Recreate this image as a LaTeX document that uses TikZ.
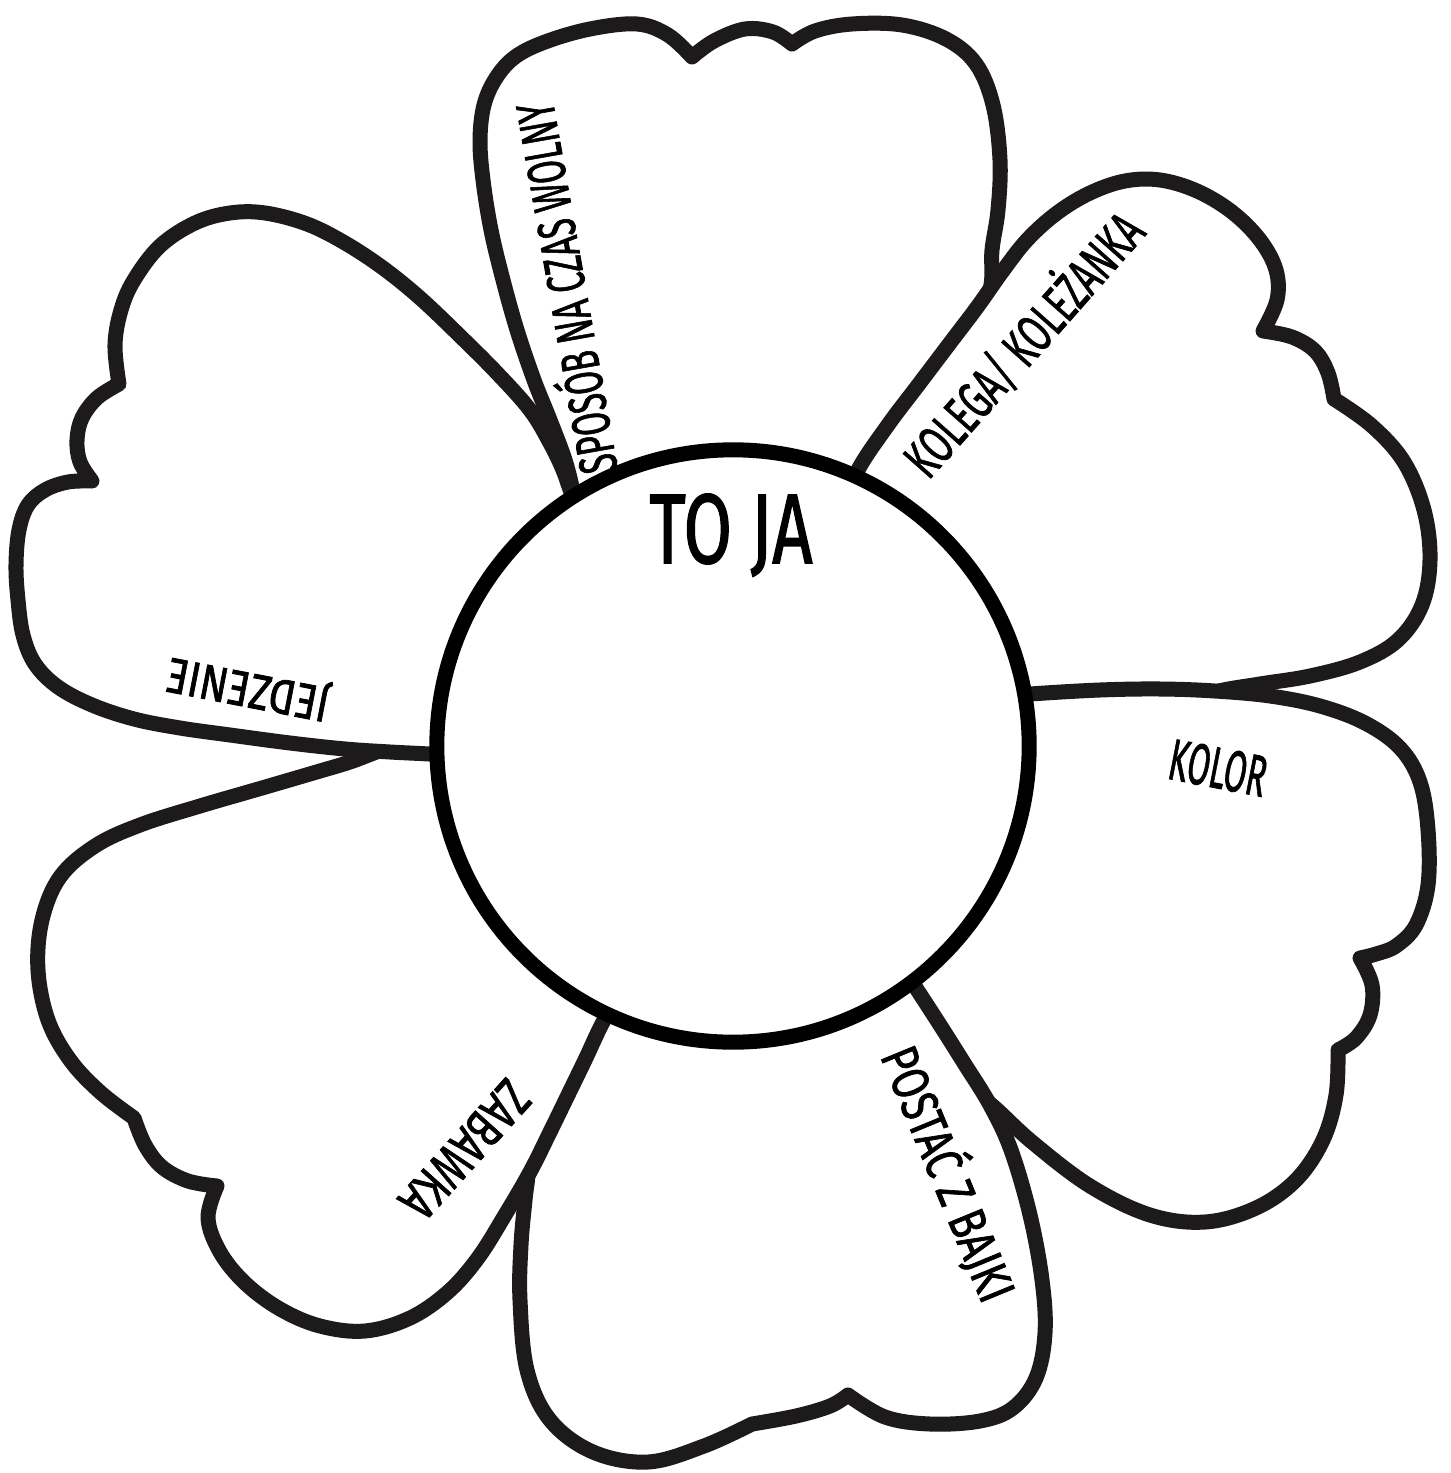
\documentclass[tikz,border=0pt]{standalone}
\usepackage{fontspec}
\usepackage{graphicx}
\newfontfamily\hand[FakeBold=1.6]{Fira Sans}
\newcommand\lbl[3]{\resizebox{#1}{#2}{\hand\vphantom{E}\smash{#3}}}
\definecolor{ink}{RGB}{28,26,27}
\begin{document}
\begin{tikzpicture}[x=0.01cm,y=-0.01cm,
  petal/.style={fill=white,draw=ink,line width=0.15cm,line join=round},
  lab/.style={inner sep=0pt,outer sep=0pt,text=black}]
\useasboundingbox[fill=white] (0,0) rectangle (1450,1473);

% top petal
\draw[petal] (600,600) -- plot[smooth,tension=0.6] coordinates {(590,560) (580,520) (574,495) (565,460) (550,420) (534,380) (517,330) (503,280) (491,230) (483,180) (480,140) (484,105) (496,78) (515,57) (545,42) (590,29) (637,24) (668,35) (692,57)}
 -- plot[smooth,tension=0.6] coordinates {(692,57) (714,41) (745,29) (773,32) (792,44)}
 -- plot[smooth,tension=0.6] coordinates {(792,44) (815,31) (852,24) (902,25) (946,39) (976,64) (993,105) (1000,160) (998,210) (992,250) (990,290) (970,340) (940,400) (900,470) (860,540)}
 -- cycle;

% upper right petal
\draw[petal] (830,560) -- plot[smooth,tension=0.6] coordinates {(840,515) (858,470) (888,425) (919,384) (950,343) (978,306) (1002,272) (1027,240) (1057,213) (1090,193) (1125,181) (1160,180) (1197,191) (1232,212) (1260,240) (1276,270) (1277,300) (1263,331)}
 -- plot[smooth,tension=0.6] coordinates {(1263,331) (1292,337) (1315,351) (1328,373) (1334,399)}
 -- plot[smooth,tension=0.6] coordinates {(1334,399) (1372,426) (1404,462) (1424,510) (1430,560) (1422,605) (1398,640) (1360,662) (1310,676) (1260,684) (1215,692) (1180,706) (1120,715) (1060,716) (1010,712)}
 -- cycle;

% right petal
\draw[petal] (900,800) -- plot[smooth,tension=0.6] coordinates {(980,698) (1030,694) (1100,690) (1160,689) (1215,691) (1270,696) (1320,706) (1365,723) (1400,748) (1420,782) (1428,830) (1428,885) (1416,925) (1396,946) (1376,954) (1360,958)}
 -- plot[smooth,tension=0.6] coordinates {(1360,958) (1372,985) (1370,1015) (1356,1038) (1338,1050)}
 -- plot[smooth,tension=0.6] coordinates {(1338,1050) (1336,1095) (1323,1140) (1296,1180) (1256,1208) (1205,1222) (1150,1215) (1090,1186) (1032,1142) (988,1102) (950,1078) (905,1010) (870,950)}
 -- cycle;

% bottom petal
\draw[petal] (730,900) -- plot[smooth,tension=0.6] coordinates {(880,935) (912,982) (940,1025) (964,1063) (990,1105) (1011,1150) (1030,1215) (1042,1280) (1045,1333) (1036,1378) (1013,1408) (980,1421) (930,1424) (885,1417) (848,1395)}
 -- plot[smooth,tension=0.6] coordinates {(848,1395) (830,1406) (796,1416) (752,1424)}
 -- plot[smooth,tension=0.6] coordinates {(752,1424) (704,1446) (648,1462) (593,1452) (550,1420) (527,1370) (520,1300) (521,1245) (525,1200) (528,1170) (525,1130) (540,1070) (600,990)}
 -- cycle;

% lower left petal
\draw[petal] (600,850) -- plot[smooth,tension=0.6] coordinates {(625,985) (603,1022) (585,1060) (568,1095) (550,1132) (530,1172) (505,1215) (478,1258) (448,1292) (410,1318) (365,1331) (320,1326) (280,1309) (245,1283) (220,1252) (208,1218) (217,1186)}
 -- plot[smooth,tension=0.6] coordinates {(217,1186) (188,1181) (162,1167) (145,1145) (134,1118)}
 -- plot[smooth,tension=0.6] coordinates {(134,1118) (100,1092) (70,1060) (48,1020) (38,970) (42,920) (60,877) (95,846) (140,825) (200,806) (262,788) (320,771) (350,762) (400,745) (460,740)}
 -- cycle;

% left petal
\draw[petal] (600,700) -- plot[smooth,tension=0.6] coordinates {(455,756) (429,754) (390,752) (345,749) (290,743) (230,735) (180,728) (134,719) (92,705) (58,687) (35,664) (23,635) (18,600) (16,565) (19,530) (28,505) (45,490) (68,482) (92,481)}
 -- plot[smooth,tension=0.6] coordinates {(92,481) (80,462) (77,440) (82,418) (97,398) (119,384)}
 -- plot[smooth,tension=0.6] coordinates {(119,384) (115,345) (121,310) (134,280) (160,246) (195,223) (230,213) (265,213) (307,224) (345,243) (383,268) (420,298) (460,336) (497,373) (530,410) (550,443) (563,470) (572,495) (590,540)}
 -- cycle;

% centre
\node[draw=black,fill=white,circle,line width=0.15cm,minimum size=5.92cm,inner sep=0pt] (core) at (733,746) {};

% labels
\node[lab] (tToja) at (731,529) {\lbl{1.63cm}{0.68cm}{TO JA}};
\node[lab,rotate=100] (tSpos) at (567,288) {\lbl{3.75cm}{0.37cm}{SPOSÓB NA CZAS WOLNY}};
\node[lab,rotate=48.5] (tKol) at (1024,345) {\lbl{3.30cm}{0.37cm}{KOLEGA/ KOLEŻANKA}};
\node[lab,rotate=-11] (tKolor) at (1218,768) {\lbl{0.98cm}{0.40cm}{KOLOR}};
\node[lab,rotate=-67.6] (tPost) at (948,1174) {\lbl{2.70cm}{0.36cm}{POSTAĆ Z BAJKI}};
\node[lab,rotate=228] (tZab) at (465,1150) {\lbl{1.65cm}{0.37cm}{ZABAWKA}};
\node[lab,rotate=169] (tJed) at (248,690) {\lbl{1.65cm}{0.34cm}{JEDZENIE}};
\end{tikzpicture}
\end{document}
